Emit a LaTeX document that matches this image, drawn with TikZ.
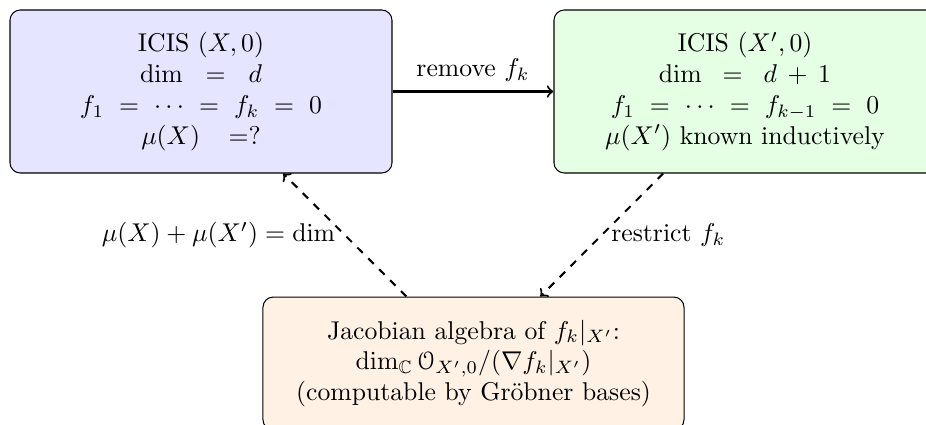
\documentclass[tikz,border=0pt]{standalone}
\usepackage{amssymb}
\usepackage[mathcal]{euscript}
\usetikzlibrary{arrows}

\tikzset{
  box/.style={draw, rounded corners=4pt, align=center, inner sep=0pt,
    minimum width=148.6pt, minimum height=63.4pt},
  flow/.style={thick, ->},
  backflow/.style={thick, dashed, ->},
}

\begin{document}
\begin{tikzpicture}[x=0.389pt, y=-0.389pt]
  \useasboundingbox (0,0) rectangle (926,425);

  % the two ICIS boxes
  \node[box, fill=blue!10] (src) at (201,91.5)
    {ICIS $(X,0)$\\
     $\thickmuskip=16mu \dim = d$\\
     $\thickmuskip=10.5mu f_1 = \cdots = f_k = 0$\\
     $\thickmuskip=20mu \mu(X) =?$};
  \node[box, fill=green!10] (tgt) at (745,91.5)
    {ICIS $(X',0)$\\
     $\thickmuskip=14.7mu \medmuskip=7.4mu \dim = d + 1$\\
     $\thickmuskip=10.5mu f_1 = \cdots = f_{k-1} = 0$\\
     $\mu(X')$ known inductively};

  % the Jacobian algebra box
  \node[box, fill=orange!10, minimum width=163.8pt, minimum height=51.7pt] (jac) at (473.5,363.5)
    {Jacobian algebra of $f_k|_{X'}$:\\
     $\dim_{\mathbb{C}} \mathcal{O}_{X',0}/(\nabla f_k|_{X'})$\\
     (computable by Gröbner bases)};

  % connectors
  \draw[flow] (src) -- node[above] {remove $f_k$} (tgt);
  \draw[backflow] (tgt) -- node[right] {restrict $f_k$} (jac);
  \draw[backflow] (jac) -- node[left] {$\mu(X) + \mu(X') = \dim$} (src);
\end{tikzpicture}
\end{document}
